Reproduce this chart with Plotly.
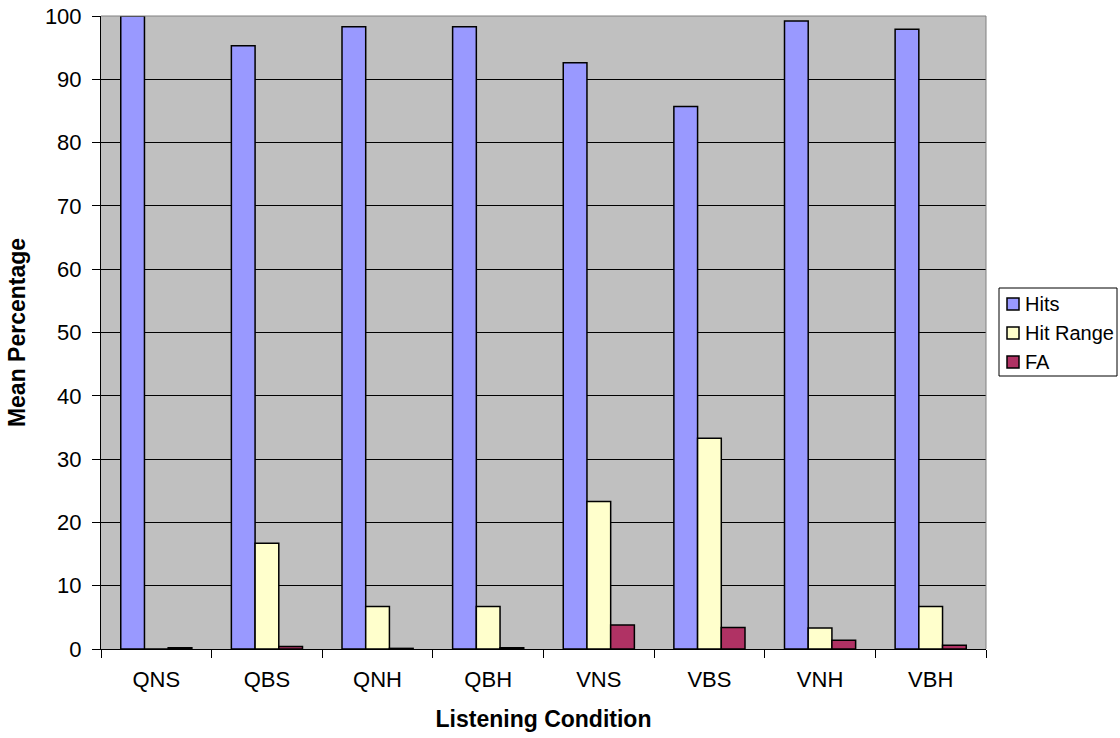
import plotly.graph_objects as go

categories = ["QNS", "QBS", "QNH", "QBH", "VNS", "VBS", "VNH", "VBH"]
hits = [100, 95.3, 98.3, 98.3, 92.6, 85.7, 99.2, 97.9]
hit_range = [0, 16.7, 6.7, 6.7, 23.3, 33.3, 3.3, 6.7]
fa = [0.2, 0.4, 0.1, 0.2, 3.8, 3.4, 1.4, 0.6]

series_names = ["Hits", "Hit Range", "FA"]
series_colors = ["#9999FF", "#FFFFCC", "#B03264"]

W, H = 1120, 738
L, R, T, B = 101, 134, 16, 89
PW, PH = W - L - R, H - T - B


def px_x(p):
    return (p - L) / PW


def px_y(p):
    return (H - B - p) / PH


fig = go.Figure()
for name, vals, col in zip(series_names, [hits, hit_range, fa], series_colors):
    fig.add_trace(go.Bar(
        x=categories, y=vals, name=name,
        marker=dict(color=col, line=dict(color="black", width=1.5)),
    ))

shapes = [
    # plot-area border (top / right), grey as in the original
    dict(type="line", xref="paper", yref="paper", x0=0, x1=1, y0=1, y1=1,
         line=dict(color="#808080", width=1), layer="above"),
    dict(type="line", xref="paper", yref="paper", x0=1, x1=1, y0=0, y1=1,
         line=dict(color="#808080", width=1), layer="above"),
    # legend box
    dict(type="rect", xref="paper", yref="paper",
         x0=px_x(999), x1=px_x(1117), y0=px_y(376), y1=px_y(288),
         line=dict(color="black", width=1), fillcolor="white"),
]
annotations = []
row_y = [304, 333, 362]
for name, col, ry in zip(series_names, series_colors, row_y):
    shapes.append(dict(type="rect", xref="paper", yref="paper",
                       x0=px_x(1007), x1=px_x(1019), y0=px_y(ry + 6), y1=px_y(ry - 6),
                       line=dict(color="black", width=1.5), fillcolor=col))
    annotations.append(dict(text=name, xref="paper", yref="paper",
                            x=px_x(1023), y=px_y(ry), xanchor="left", yanchor="middle",
                            showarrow=False, font=dict(size=20, color="black")))

fig.update_layout(
    width=W, height=H,
    margin=dict(l=L, r=R, t=T, b=B, pad=0),
    paper_bgcolor="white",
    plot_bgcolor="#C0C0C0",
    barmode="group",
    bargap=0.357,
    bargroupgap=0,
    showlegend=False,
    font=dict(family="Arial, Liberation Sans, sans-serif", size=22, color="black"),
    shapes=shapes,
    annotations=annotations,
    xaxis=dict(
        title=dict(text="<b>Listening Condition</b>", font=dict(size=23), standoff=19),
        automargin=False,
        showline=True, linecolor="black", linewidth=1,
        ticks="outside", ticklen=8, tickcolor="black", tickson="boundaries",
        ticklabelstandoff=11,
        showgrid=False,
    ),
    yaxis=dict(
        title=dict(text="<b>Mean Percentage</b>", font=dict(size=23), standoff=12),
        automargin=False,
        range=[0, 100], dtick=10,
        showline=True, linecolor="black", linewidth=1,
        ticks="outside", ticklen=8, tickcolor="black",
        ticklabelstandoff=6,
        showgrid=True, gridcolor="black", gridwidth=1,
        zeroline=False,
    ),
)

fig.write_html("out.html", config={"displayModeBar": False},
               post_script="document.body.style.margin='0';")
